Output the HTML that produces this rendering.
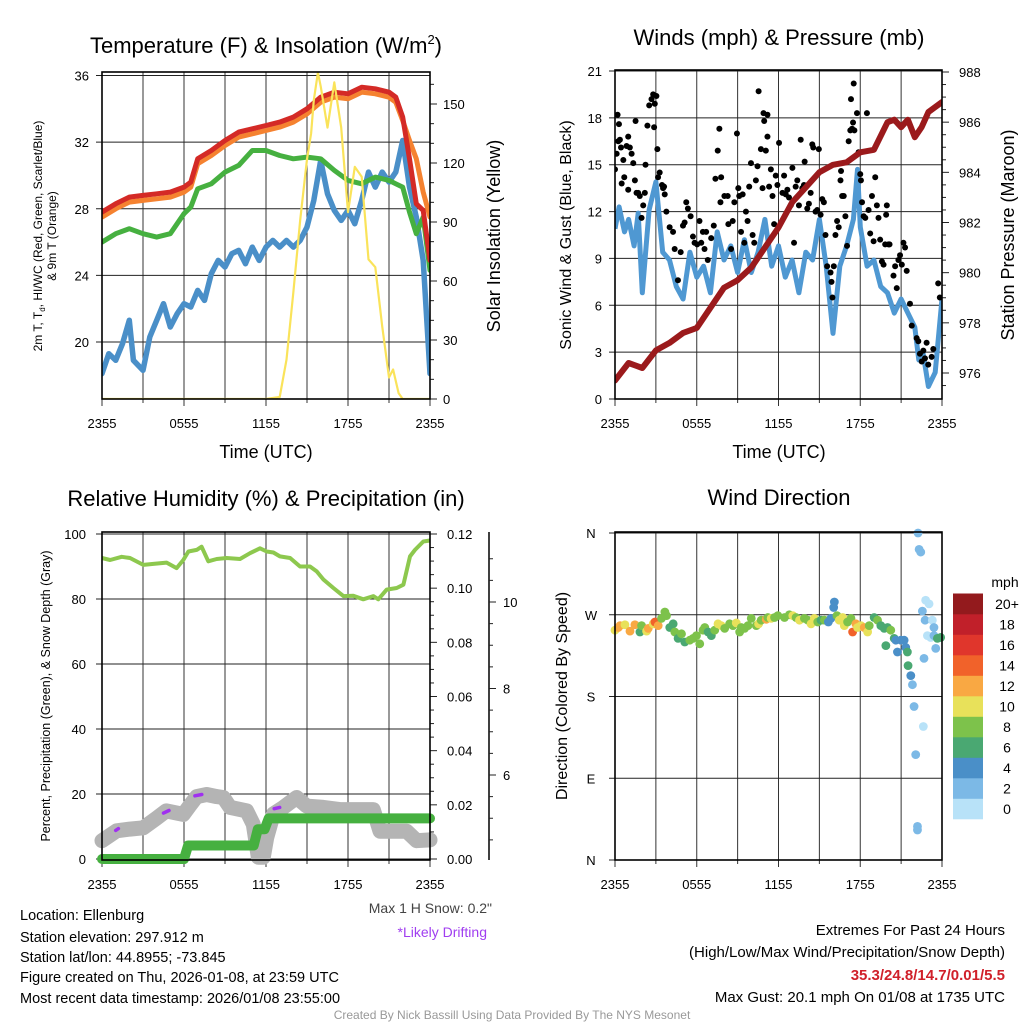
<!DOCTYPE html>
<html><head><meta charset="utf-8"><style>
html,body{margin:0;padding:0;background:#fff;}
svg{display:block;font-family:"Liberation Sans",Arial,sans-serif;}
</style></head><body>
<svg id="fig" width="1024" height="1024" viewBox="0 0 1024 1024">
<rect width="1024" height="1024" fill="#fff"/>
<g id="p1"></g>
<g id="p2"></g>
<g id="p3"></g>
<g id="p4"></g>
<text x="266" y="53" font-size="22" text-anchor="middle">Temperature (F) &amp; Insolation (W/m<tspan font-size="13" dy="-9">2</tspan><tspan dy="9">)</tspan></text>
<text x="779" y="45" font-size="22" text-anchor="middle">Winds (mph) &amp; Pressure (mb)</text>
<text x="266" y="506" font-size="22" text-anchor="middle">Relative Humidity (%) &amp; Precipitation (in)</text>
<text x="779" y="505" font-size="22" text-anchor="middle">Wind Direction</text>
<text transform="translate(42,236) rotate(-90)" font-size="12" text-anchor="middle">2m T, T<tspan font-size="8" dy="3">d</tspan><tspan dy="-3">, HI/WC (Red, Green, Scarlet/Blue)</tspan></text>
<text transform="translate(56,236) rotate(-90)" font-size="12" text-anchor="middle">&amp; 9m T (Orange)</text>
<text transform="translate(500,236) rotate(-90)" font-size="18" text-anchor="middle">Solar Insolation (Yellow)</text>
<text x="266" y="458" font-size="18" text-anchor="middle">Time (UTC)</text>
<text x="779" y="458" font-size="18" text-anchor="middle">Time (UTC)</text>
<text transform="translate(571,235) rotate(-90)" font-size="16" text-anchor="middle">Sonic Wind &amp; Gust (Blue, Black)</text>
<text transform="translate(1014,235) rotate(-90)" font-size="18" text-anchor="middle">Station Pressure (Maroon)</text>
<text transform="translate(50,696) rotate(-90)" font-size="12.5" text-anchor="middle">Percent, Precipitation (Green), &amp; Snow Depth (Gray)</text>
<text transform="translate(567,696) rotate(-90)" font-size="16" text-anchor="middle">Direction (Colored By Speed)</text>
<text x="492" y="913" font-size="14" text-anchor="end" fill="#444">Max 1 H Snow: 0.2"</text>
<text x="487" y="937" font-size="14" text-anchor="end" fill="#a03ef0">*Likely Drifting</text>
<g font-size="14.5">
<text x="20" y="920">Location: Ellenburg</text>
<text x="20" y="942">Station elevation: 297.912 m</text>
<text x="20" y="962">Station lat/lon: 44.8955; -73.845</text>
<text x="20" y="982">Figure created on Thu, 2026-01-08, at 23:59 UTC</text>
<text x="20" y="1003">Most recent data timestamp: 2026/01/08 23:55:00</text>
</g>
<g font-size="15" text-anchor="end">
<text x="1005" y="935">Extremes For Past 24 Hours</text>
<text x="1005" y="957">(High/Low/Max Wind/Precipitation/Snow Depth)</text>
<text x="1005" y="980" font-weight="bold" fill="#d0202a">35.3/24.8/14.7/0.01/5.5</text>
<text x="1005" y="1002">Max Gust: 20.1 mph On 01/08 at 1735 UTC</text>
</g>
<text x="512" y="1019" font-size="12" text-anchor="middle" fill="#999">Created By Nick Bassill Using Data Provided By The NYS Mesonet</text>
</svg>
<script>
// ---- Panel 1 data ----
const tHours=[0,1,2,3,4,5,6,6.5,7,8,9,10,11,12,13,14,15,16,17,18,19,20,21,21.5,22,22.5,23,23.5,24];
const tRed=[27.8,28.3,28.7,28.8,28.9,29.0,29.3,29.6,31.0,31.5,32.1,32.6,32.8,33.0,33.2,33.5,34.0,34.7,35.0,34.9,35.3,35.2,35.0,34.7,33.5,31.0,28.3,27.9,24.9];
const tOrange=[27.5,28.0,28.4,28.5,28.6,28.7,29.0,29.3,30.7,31.2,31.8,32.3,32.5,32.7,32.9,33.2,33.7,34.4,34.7,34.6,35.0,34.9,34.7,34.4,33.3,32.1,31.0,29.0,27.5];
const tGreen=[26.0,26.5,26.8,26.5,26.3,26.5,27.7,28.1,29.2,29.5,30.2,30.6,31.5,31.5,31.2,31.0,31.1,31.0,30.3,29.7,29.5,29.9,29.7,29.5,29.3,27.8,26.5,27.5,24.3];
const dHours=[0,0.5,1,1.5,2,2.3,3,3.5,4,4.5,5,5.5,6,6.5,7,7.5,8,8.5,9,9.5,10,10.5,11,11.5,12,12.5,13,13.5,14,14.5,15,15.5,16,16.5,17,17.5,18,18.5,19,19.5,20,20.5,21,21.5,22,22.5,23,23.5,24];
const tBlue=[18.1,19.3,18.9,19.9,21.3,18.9,18.3,20.3,21.3,22.3,20.9,21.7,22.3,22.1,23.1,22.5,24.1,24.9,24.5,25.3,25.5,24.7,25.7,24.9,25.7,26.1,25.7,26.1,25.7,26.1,26.9,28.5,30.9,28.9,27.9,27.3,27.9,27.1,28.5,30.2,29.3,30.2,29.6,30.2,32.1,29.3,27.5,24.9,18.1];
const sHours=[0,12,13,13.5,14,14.5,15,15.3,15.5,15.8,16,16.5,17,17.5,18,18.5,19,19.5,20,20.5,21,21.3,21.7,22,24];
const solar=[0,0,1,20,54,91,122,135,152,166,159,138,161,138,95,118,113,71,67,37,11,15,3,0,0];
const tTicks=[20,24,28,32,36];
const sTicks=[0,30,60,90,120,150];
const timeLabels=["2355","0555","1155","1755","2355"];
// ---- Panel 2 data ----
const pHours=[0,1,2,3,4,5,6,7,8,9,10,11,12,13,14,15,16,17,18,19,20,20.5,21,21.5,22,22.5,23,23.5,24];
const pressure=[975.7,976.4,976.2,976.9,977.2,977.6,977.8,978.6,979.4,979.7,980.2,981.0,981.8,982.8,983.4,984.0,984.3,984.4,984.8,984.9,986.0,986.1,985.8,986.1,985.4,985.8,986.4,986.6,986.8];
const wHours=[0,0.3,0.7,1,1.4,1.7,2,2.5,3,3.5,4,4.5,5,5.5,6,6.5,7,7.5,8,8.5,9,9.5,10,10.5,11,11.5,12,12.5,13,13.5,14,14.5,15,15.5,16,16.5,17,17.5,17.8,18,18.5,19,19.5,20,20.5,21,21.5,22,22.3,22.6,23,23.5,24];
const wind=[10.9,12.3,10.7,11.5,9.8,11.9,6.8,12.1,13.9,9.4,8.9,7.2,6.4,9.4,7.8,8.5,6.8,10.7,8.9,9.8,8.1,10.2,8.1,9.4,11.5,8.5,9.8,7.8,8.9,6.8,9.4,8.9,11.5,8.5,4.2,8.5,9.8,11.5,14.7,11.0,8.5,8.9,7.2,6.8,5.5,6.4,5.5,4.6,2.5,3.0,0.8,1.7,6.4];
const gustHours=[0,0.12,0.19,0.29,0.24,0.36,0.44,0.61,0.49,0.68,0.85,0.97,0.97,1.09,1.22,1.34,1.46,1.51,1.58,1.7,1.82,1.95,2.07,2.19,2.24,2.38,2.51,2.68,2.8,2.87,2.92,3.04,3.11,3.16,3.28,3.45,3.53,3.6,3.65,3.77,4.01,4.26,4.38,4.62,4.82,4.99,5.11,5.23,5.35,5.55,5.72,5.84,6.03,6.2,6.33,6.45,6.57,6.69,6.81,7.06,7.25,7.37,7.54,7.66,7.79,7.74,8.03,8.27,8.32,8.52,8.64,8.76,8.95,9.05,9.12,9.25,9.37,9.49,9.61,9.73,9.85,9.98,10.1,10.22,10.34,10.46,10.54,10.71,10.83,10.9,10.95,11.07,11.19,11.19,11.31,11.44,11.56,11.68,11.8,11.92,12.04,12.29,12.41,12.53,12.65,12.77,12.9,13.02,13.14,13.26,13.38,13.5,13.63,13.75,13.87,13.92,14.11,14.23,14.36,14.48,14.55,14.72,14.84,14.96,15.09,15.21,15.33,15.45,15.57,15.82,15.89,15.96,16.06,16.18,16.3,16.42,16.55,16.59,16.67,16.79,16.91,17.03,17.15,17.27,17.32,17.4,17.47,17.52,17.57,17.76,17.88,18,18.05,18.13,18.25,18.37,18.49,18.61,18.73,18.86,18.98,19.1,19.22,19.34,19.46,19.59,19.71,19.83,19.9,19.95,20.07,20.15,20.44,20.56,20.68,20.8,20.92,21.05,21.17,21.29,21.41,21.65,21.78,22.14,22.26,22.38,22.51,22.63,22.75,22.87,22.99,23.24,23.36,23.72,23.84];
const gust=[14.7,15.7,18.2,17.6,16.5,16.6,16.1,15.3,13.8,14.2,16.2,16.8,13.4,16.1,15.7,15.1,14.0,17.8,13.2,13.2,13.0,11.6,12.4,13.2,15.0,17.5,18.8,19.2,19.5,17.4,18.9,19.4,16.0,14.2,14.5,13.7,13.5,13.6,13.1,12.0,11.0,10.7,9.6,7.6,9.4,11.1,11.3,12.6,12.2,11.7,10.4,10.0,9.9,11.4,10.0,10.7,9.6,10.7,8.9,10.3,11.1,14.1,15.9,17.3,14.2,12.6,13.0,13.0,11.2,9.6,11.4,12.6,17.0,13.5,13.0,10.7,13.1,10.0,12.0,11.4,13.6,15.1,10.5,10.0,14.0,14.9,19.7,16.0,13.5,18.3,17.8,15.9,18.2,16.8,13.6,14.7,13.0,11.2,14.3,13.7,16.4,13.2,14.3,13.1,13.4,12.9,12.4,14.8,10.0,13.6,14.0,12.4,16.6,13.5,13.7,15.2,12.2,12.5,13.2,16.3,16.1,12.0,12.1,16.0,11.8,12.8,12.6,10.5,8.5,8.1,7.5,6.5,8.5,10.5,11.4,11.0,14.0,14.6,13.0,13.0,11.7,9.8,16.5,17.2,19.2,17.3,17.7,20.2,17.2,18.3,15.8,14.4,14.0,12.6,11.7,11.6,18.3,12.1,10.6,13.0,10.1,14.2,12.4,11.6,10.2,8.8,8.6,9.9,11.8,12.4,9.9,9.9,7.9,8.5,7.1,8.9,9.2,8.6,10.0,9.7,8.2,6.1,4.7,3.9,3.7,2.9,2.4,3.1,2.6,3.6,2.2,2.7,3.2,7.4,6.5];
const windTicks=[0,3,6,9,12,15,18,21];
const presTicks=[976,978,980,982,984,986,988];
// ---- Panel 3 data ----
const rhHours=[0,0.59,1.44,2.05,3.02,3.76,4.73,5.46,5.95,6.32,6.93,7.29,7.78,8.39,9.12,10.1,10.83,11.56,12.05,12.54,13.02,13.76,14.49,15.22,15.71,16.2,16.93,17.66,18.39,19.12,19.85,20.22,20.83,21.56,22.05,22.54,22.9,23.51,24];
const rh=[92.6,92,93,92.6,90.5,90.8,91.2,89.5,92,94.6,95.1,96.1,91.6,92.3,92.6,92.3,94.1,95.6,94.6,94.3,93.1,92.6,90,90,88.5,86,83.4,80.9,81,79.9,80.9,79.9,82.9,83.4,84.4,93.1,95.1,97.7,98];
const prHours=[0,6.0,6.3,11.1,11.4,11.9,12.2,24];
const precip=[0,0,0.005,0.005,0.011,0.011,0.015,0.015];
const snHours=[0,1.07,2.05,3.02,3.98,4.7,5.95,6.44,6.93,7.66,8.39,8.88,9.37,10.59,11.07,11.44,11.8,12.05,12.54,13.27,14.24,14.98,16.2,17.41,19.85,20.34,22.29,23.02,24];
const snow=[4.48,4.71,4.75,4.78,5.0,5.17,5.09,5.3,5.5,5.55,5.5,5.48,5.25,5.17,4.86,4.1,4.1,4.55,5.1,5.25,5.48,5.28,5.25,5.2,5.2,4.7,4.7,4.48,4.5];
const driftHours=[[1.0,1.2],[4.5,4.9],[6.8,7.3],[12.6,13.0]];
const driftSnow=[[4.72,4.76],[5.12,5.18],[5.52,5.55],[5.22,5.25]];
const rhTicks=[0,20,40,60,80,100];
const prTicks=[0,0.02,0.04,0.06,0.08,0.10,0.12];
const prLabels=["0.00","0.02","0.04","0.06","0.08","0.10","0.12"];
const snTicks=[6,8,10];
// ---- Panel 4 data ----
const dirHours=[0,0.24,0.37,0.73,1.1,1.46,1.83,1.95,2.32,2.44,2.8,2.93,3.17,3.41,3.66,3.78,4.02,4.27,4.39,4.63,4.88,5.12,5.49,5.73,5.98,6.22,6.46,6.59,6.83,7.07,7.32,7.56,7.8,8.05,8.41,8.66,8.9,9.15,9.27,9.51,9.76,10,10.37,10.54,10.73,11.1,11.22,11.46,11.71,11.95,12.44,12.8,13.05,13.29,13.54,13.9,14.15,14.39,14.63,14.88,15.12,15.37,15.66,15.85,16.05,16.1,16.29,16.46,16.71,16.83,17.07,17.32,17.44,17.68,17.8,18.05,18.29,18.54,18.66,19.02,19.27,19.51,19.76,19.88,20,20.24,20.49,20.61,20.73,20.98,21.22,21.34,21.46,21.51,21.71,21.83,21.95,22.07,22.2,22.2,22.24,22.32,22.44,22.56,22.63,22.68,22.76,22.8,22.93,23.05,23.17,23.29,23.41,23.41,23.54,23.66,23.9];
const dirDeg=[253,256,258,259,252,259,251,258,252,255,260,262,258,266,273,269,256,260,251,244,249,240,242,244,247,238,253,256,251,247,253,260,258,255,260,258,261,251,256,255,258,266,258,260,264,265,267,266,267,269,267,270,269,267,264,266,264,260,266,262,264,264,262,266,278,284,269,264,267,258,262,266,251,260,256,258,256,251,258,267,264,258,255,236,256,253,244,242,229,242,242,234,229,214,203,193,169,116,37,33,360,342,339,274,147,222,264,286,247,282,245,264,256,247,233,244,245];
const dirSpeed=[10,12,13,10,12,13,6,8,10,13,11,15,12,9,8,8,6,6,8,6,8,7,8,8,9,8,8,8,7,6,9,10,10,9,8,8,11,8,8,8,8,8,9,10,8,12,8,10,9,8,8,9,11,8,10,8,8,10,10,9,7,9,5,4,4,4,8,10,10,10,8,9,15,13,11,10,13,10,8,6,8,7,6,6,6,8,6,5,4,4,4,5,6,6,4,3,3,2,3,3,3,3,3,3,1,3,3,1,1,1,1,1,3,3,3,6,6];
const dirTicks=[0,90,180,270,360];
const dirLabels=["N","E","S","W","N"];
const cbLabels=["0","2","4","6","8","10","12","14","16","18","20+"];
const cbColors=["#b8e2f8","#7cb9e6","#4a8fc8","#4aa872","#7dc24b","#e8e15a","#f9a843","#f1622a","#e0362c","#c1202a","#931a1d"];

const NS="http://www.w3.org/2000/svg";
function mk(parent,tag,attrs){const e=document.createElementNS(NS,tag);for(const k in attrs)e.setAttribute(k,attrs[k]);parent.appendChild(e);return e;}
function lin(d0,d1,r0,r1){return v=>r0+(v-d0)*(r1-r0)/(d1-d0);}
function pathD(xs,ys,fx,fy){return xs.map((h,i)=>(i?"L":"M")+fx(h).toFixed(1)+","+fy(ys[i]).toFixed(1)).join("");}
function txt(parent,x,y,s,anchor,size){const t=mk(parent,"text",{x:x,y:y,"font-size":size||13,"text-anchor":anchor||"middle"});t.textContent=s;return t;}

function frame(g,x0,y0,x1,y1){
  for(let h=0;h<=24;h+=3){const x=lin(0,24,x0,x1)(h);
    const l=mk(g,"line",{x1:x,y1:y0,x2:x,y2:y1+(h%6===0?7:4),stroke:"#333","stroke-width":1});
    
    }
  timeLabels.forEach((s,i)=>{const t=txt(g,lin(0,24,x0,x1)(i*6),y1+29,s,"middle",13);
    
    });
}
function border(g,x0,y0,x1,y1){const r=mk(g,"rect",{x:x0,y:y0,width:x1-x0,height:y1-y0,fill:"none",stroke:"#000","stroke-width":1.6});
  
  }

// ===== Panel 1 =====
(function(){const g=document.getElementById("p1");const X0=102,X1=430,Y0=72,Y1=399;
 const fx=lin(0,24,X0,X1),fy=lin(20,36,342,75.5),fs=lin(0,150,399,104);
 frame(g,X0,Y0,X1,Y1);
 tTicks.forEach(v=>{const l=mk(g,"line",{x1:X0-6,y1:fy(v),x2:X1,y2:fy(v),stroke:"#222","stroke-width":1});
  
  
  const t=txt(g,X0-13,fy(v)+5,String(v),"end",13);
  
  });
 for(let v=0;v<=160;v+=10){const l=mk(g,"line",{x1:X1,y1:fs(v),x2:X1+(v%30===0?7:4),y2:fs(v),stroke:"#222","stroke-width":1});
  
  }
 sTicks.forEach(v=>{const t=txt(g,X1+13,fs(v)+5,String(v),"start",13);
  
  });
 const clip=mk(g,"clipPath",{id:"c1"});mk(clip,"rect",{x:X0,y:Y0,width:X1-X0,height:Y1-Y0});
 const s=mk(g,"g",{"clip-path":"url(#c1)"});
 const series=[[dHours,tBlue,"#4a8fc8",5.5,"dewpoint-line"],[tHours,tGreen,"#46b040",5,"heat-index-line"],[tHours,tOrange,"#f58230",5,"temp-9m-line"],[tHours,tRed,"#d42a26",5,"temp-2m-line"]];
 series.forEach(([xs,ys,c,w,n])=>{const p=mk(s,"path",{d:pathD(xs,ys,fx,fy),fill:"none",stroke:c,"stroke-width":w,"stroke-linejoin":"round","stroke-linecap":"round"});
  
  });
 const p=mk(s,"path",{d:pathD(sHours,solar,fx,fs),fill:"none",stroke:"#fae35a","stroke-width":2.2,"stroke-linejoin":"round"});
 
 
 border(g,X0,Y0,X1,Y1);
})();

// ===== Panel 2 =====
(function(){const g=document.getElementById("p2");const X0=615,X1=942,Y0=70,Y1=399;
 const fx=lin(0,24,X0,X1),fy=lin(0,21,399,71),fp=lin(976,988,373,72);
 frame(g,X0,Y0,X1,Y1);
 windTicks.forEach(v=>{const l=mk(g,"line",{x1:X0-6,y1:fy(v),x2:X1,y2:fy(v),stroke:"#222","stroke-width":1});
  
  
  const t=txt(g,X0-13,fy(v)+5,String(v),"end",13);
  
  });
 for(let v=975.5;v<=988.01;v+=0.5){const l=mk(g,"line",{x1:X1,y1:fp(v),x2:X1+(Math.abs(v%2)<0.01?7:4),y2:fp(v),stroke:"#222","stroke-width":1});
  
  }
 presTicks.forEach(v=>{const t=txt(g,X1+17,fp(v)+5,String(v),"start",13);
  
  });
 const clip=mk(g,"clipPath",{id:"c2"});mk(clip,"rect",{x:X0,y:Y0,width:X1-X0,height:Y1-Y0});
 const s=mk(g,"g",{"clip-path":"url(#c2)"});
 const w=mk(s,"path",{d:pathD(wHours,wind,fx,fy),fill:"none",stroke:"#4f98d2","stroke-width":5,"stroke-linejoin":"round"});
 
 
 gustHours.forEach((h,i)=>{const c=mk(s,"circle",{cx:fx(h),cy:fy(gust[i]),r:3,fill:"#000"});
  
  });
 const p=mk(s,"path",{d:pathD(pHours,pressure,fx,fp),fill:"none",stroke:"#9b1a1c","stroke-width":6,"stroke-linejoin":"round","stroke-linecap":"round"});
 
 
 border(g,X0,Y0,X1,Y1);
})();

// ===== Panel 3 =====
(function(){const g=document.getElementById("p3");const X0=102,X1=430,Y0=532,Y1=860;
 const fx=lin(0,24,X0,X1),fy=lin(0,100,859,534),fpr=lin(0,0.12,859,534),fsn=lin(6,10,775,602);
 frame(g,X0,Y0,X1,Y1);
 rhTicks.forEach(v=>{const l=mk(g,"line",{x1:X0-6,y1:fy(v),x2:X1,y2:fy(v),stroke:"#222","stroke-width":1});
  
  
  const t=txt(g,X0-16,fy(v)+5,String(v),"end",13);
  
  });
 for(let v=0;v<=0.1201;v+=0.005){const l=mk(g,"line",{x1:X1,y1:fpr(v),x2:X1+(Math.round(v*1000)%20===0?7:4),y2:fpr(v),stroke:"#222","stroke-width":1});
  
  }
 prTicks.forEach((v,i)=>{const t=txt(g,X1+17,fpr(v)+5,prLabels[i],"start",13);
  
  });
 const ax=mk(g,"line",{x1:489,y1:532,x2:489,y2:860,stroke:"#000","stroke-width":1.5});
 
 
 for(let v=4;v<=11.3;v+=0.5){const y=fsn(v);if(y<532||y>860)continue;const l=mk(g,"line",{x1:489,y1:y,x2:489+(v%2===0?7:4),y2:y,stroke:"#222","stroke-width":1});
  
  }
 snTicks.forEach(v=>{const t=txt(g,503,fsn(v)+5,String(v),"start",13);
  
  });
 const clip=mk(g,"clipPath",{id:"c3"});mk(clip,"rect",{x:X0-8,y:Y0,width:X1-X0+16,height:Y1-Y0+8});
 const s=mk(g,"g",{"clip-path":"url(#c3)"});
 const sn=mk(s,"path",{d:pathD(snHours,snow,fx,fsn),fill:"none",stroke:"#b4b4b4","stroke-width":15,"stroke-linejoin":"round","stroke-linecap":"round"});
 
 
 driftHours.forEach((hs,i)=>{const d=mk(s,"path",{d:pathD(hs,driftSnow[i],fx,fsn),fill:"none",stroke:"#a030f0","stroke-width":3.5,"stroke-linecap":"round"});
  
  });
 const pr=mk(s,"path",{d:pathD(prHours,precip,fx,fpr),fill:"none",stroke:"#46b040","stroke-width":10,"stroke-linejoin":"round","stroke-linecap":"round"});
 
 
 const r=mk(s,"path",{d:pathD(rhHours,rh,fx,fy),fill:"none",stroke:"#8dc84e","stroke-width":4,"stroke-linejoin":"round"});
 
 
 border(g,X0,Y0,X1,Y1);
})();

// ===== Panel 4 =====
(function(){const g=document.getElementById("p4");const X0=615,X1=942,Y0=532,Y1=860;
 const fx=lin(0,24,X0,X1),fy=lin(0,360,860,533);
 frame(g,X0,Y0,X1,Y1);
 dirTicks.forEach((v,i)=>{const l=mk(g,"line",{x1:X0-6,y1:fy(v),x2:X1,y2:fy(v),stroke:"#222","stroke-width":1});
  
  
  const t=txt(g,591,fy(v)+5,dirLabels[i],"middle",13);
  
  });
 dirHours.forEach((h,i)=>{const k=Math.min(10,Math.floor(dirSpeed[i]/2));
  const c=mk(g,"circle",{cx:fx(h),cy:fy(dirDeg[i]),r:4.4,fill:cbColors[k]});
  
  });
 border(g,X0,Y0,X1,Y1);
 const cb=mk(g,"g",{});
 
 
 const h=20.5;
 cbColors.forEach((c,i)=>{const y=819-(i+1)*h;
  const r=mk(cb,"rect",{x:953,y:y,width:30,height:h+0.3,fill:c});
  
  
  const t=txt(cb,1007,y+h/2+5,cbLabels[i],"middle",14);
  
  });
 const u=txt(cb,1005,587,"mph","middle",14);
 
 
})();
</script>
</body></html>
